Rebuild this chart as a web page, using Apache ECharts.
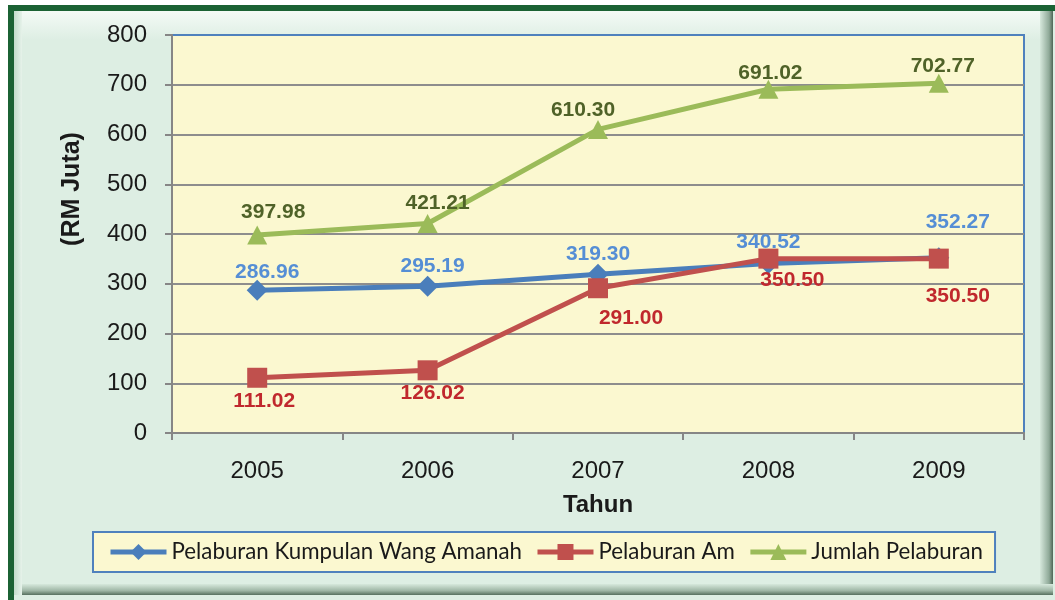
<!DOCTYPE html>
<html><head><meta charset="utf-8">
<script src="https://cdn.jsdelivr.net/npm/echarts@6/dist/echarts.min.js"></script>
<style>html,body{margin:0;padding:0;background:#fff}#c{width:1055px;height:600px}</style>
</head><body><div id="c"></div>
<script>
const categories = ['2005', '2006', '2007', '2008', '2009'];
const kumpulanWangAmanah = [286.96, 295.19, 319.30, 340.52, 352.27];
const pelaburanAm = [111.02, 126.02, 291.00, 350.50, 350.50];
const jumlahPelaburan = [397.98, 421.21, 610.30, 691.02, 702.77];
const yTicks = { min: 0, max: 800, interval: 100 };

// label offsets (style only)
const blueOff = [[10,-18],[5,-20],[0,-20],[0,-21],[19,-36]];
const redOff = [[7,23],[5,23],[33,30],[24,22],[19,38]];
const greenOff = [[16,-23],[10,-20],[-15,-19],[2,-16],[4,-17]];

function withLabels(vals, offs, color) {
  return vals.map((v, i) => ({ value: v, label: { show: true, position: 'inside', offset: offs[i], color: color,
    fontFamily: 'Liberation Sans, Arial', fontWeight: 'bold', fontSize: 21, formatter: () => v.toFixed(2) } }));
}

const chart = echarts.init(document.getElementById('c'), null, { renderer: 'canvas' });
chart.setOption({
  backgroundColor: '#ffffff',
  animation: false,
  graphic: [
    { type: 'rect', z: -10, silent: true, shape: { x: 11, y: 8, width: 1100, height: 640 },
      style: { fill: '#ddeee3', stroke: '#1b6234', lineWidth: 6 } },
    { type: 'rect', z: -9, silent: true, shape: { x: 14, y: 11, width: 1039, height: 584 },
      style: { fill: { type: 'linear', x: 0, y: 0, x2: 0, y2: 1, colorStops: [{ offset: 0, color: '#f4faf6' }, { offset: 0.05, color: '#ddeee3' }, { offset: 1, color: '#ddeee3' }] } } },
    { type: 'rect', z: -8, silent: true, shape: { x: 14, y: 11, width: 8, height: 584 },
      style: { fill: { type: 'linear', x: 0, y: 0, x2: 1, y2: 0, colorStops: [{ offset: 0, color: '#c3dccb' }, { offset: 1, color: '#e6f2ea' }] } } },
    { type: 'rect', z: -8, silent: true, shape: { x: 1040, y: 11, width: 13, height: 584 },
      style: { fill: { type: 'linear', x: 0, y: 0, x2: 1, y2: 0, colorStops: [{ offset: 0, color: '#d6e8dc' }, { offset: 0.7, color: '#8fa998' }, { offset: 1, color: '#4e6656' }] } } },
    { type: 'rect', z: -8, silent: true, shape: { x: 22, y: 584, width: 1031, height: 11 },
      style: { fill: { type: 'linear', x: 0, y: 0, x2: 0, y2: 1, colorStops: [{ offset: 0, color: '#d6e8dc' }, { offset: 0.6, color: '#9fb7a6' }, { offset: 1, color: '#56705e' }] } } }
  ],
  grid: { left: 172, right: 31, top: 35, bottom: 167, show: true, backgroundColor: '#fbf8d0', borderColor: '#4f81bd', borderWidth: 2 },
  legend: {
    left: 93, top: 532, padding: [9, 12, 9, 15], itemGap: 13, itemWidth: 56, itemHeight: 20,
    backgroundColor: '#fbf8d0', borderColor: '#4f81bd', borderWidth: 2,
    lineStyle: { width: 5 },
    textStyle: { fontFamily: 'Lato', fontSize: 22.3, color: '#1a1a1a' },
    data: ['Pelaburan Kumpulan Wang Amanah', 'Pelaburan Am', 'Jumlah Pelaburan']
  },
  xAxis: {
    type: 'category', data: categories, boundaryGap: true,
    name: 'Tahun', nameLocation: 'middle', nameGap: 60,
    nameTextStyle: { fontFamily: 'Liberation Sans, Arial', fontWeight: 'bold', fontSize: 24, color: '#1a1a1a' },
    axisLine: { lineStyle: { color: '#868686', width: 2 } },
    axisTick: { show: true, length: 7, lineStyle: { color: '#868686', width: 2 } },
    axisLabel: { fontFamily: 'Liberation Sans, Arial', fontSize: 24, color: '#1a1a1a', margin: 26 }
  },
  yAxis: {
    type: 'value', min: yTicks.min, max: yTicks.max, interval: yTicks.interval,
    name: '(RM Juta)', nameLocation: 'middle', nameGap: 87, nameRotate: 90,
    nameTextStyle: { fontFamily: 'Liberation Sans, Arial', fontWeight: 'bold', fontSize: 25, color: '#1a1a1a', padding: [0, 0, 0, 90] },
    axisLine: { show: true, lineStyle: { color: '#868686', width: 2 } },
    axisTick: { show: true, length: 7, lineStyle: { color: '#868686', width: 2 } },
    axisLabel: { fontFamily: 'Liberation Sans, Arial', fontSize: 24, color: '#1a1a1a', margin: 25 },
    splitLine: { show: true, showMaxLine: false, lineStyle: { color: '#8d8d8d', width: 2 } }
  },
  series: [
    { name: 'Pelaburan Kumpulan Wang Amanah', type: 'line', data: withLabels(kumpulanWangAmanah, blueOff, '#558ed5'),
      symbol: 'diamond', symbolSize: 21, itemStyle: { color: '#4a7ebb' }, lineStyle: { color: '#4a7ebb', width: 5 } },
    { name: 'Pelaburan Am', type: 'line', data: withLabels(pelaburanAm, redOff, '#c0282d'),
      symbol: 'rect', symbolSize: 20, itemStyle: { color: '#c0504d' }, lineStyle: { color: '#c0504d', width: 5 } },
    { name: 'Jumlah Pelaburan', type: 'line', data: withLabels(jumlahPelaburan, greenOff, '#4f6228'),
      symbol: 'triangle', symbolSize: [20, 19], itemStyle: { color: '#9bbb59' }, lineStyle: { color: '#9bbb59', width: 5 } }
  ]
});
</script></body></html>
